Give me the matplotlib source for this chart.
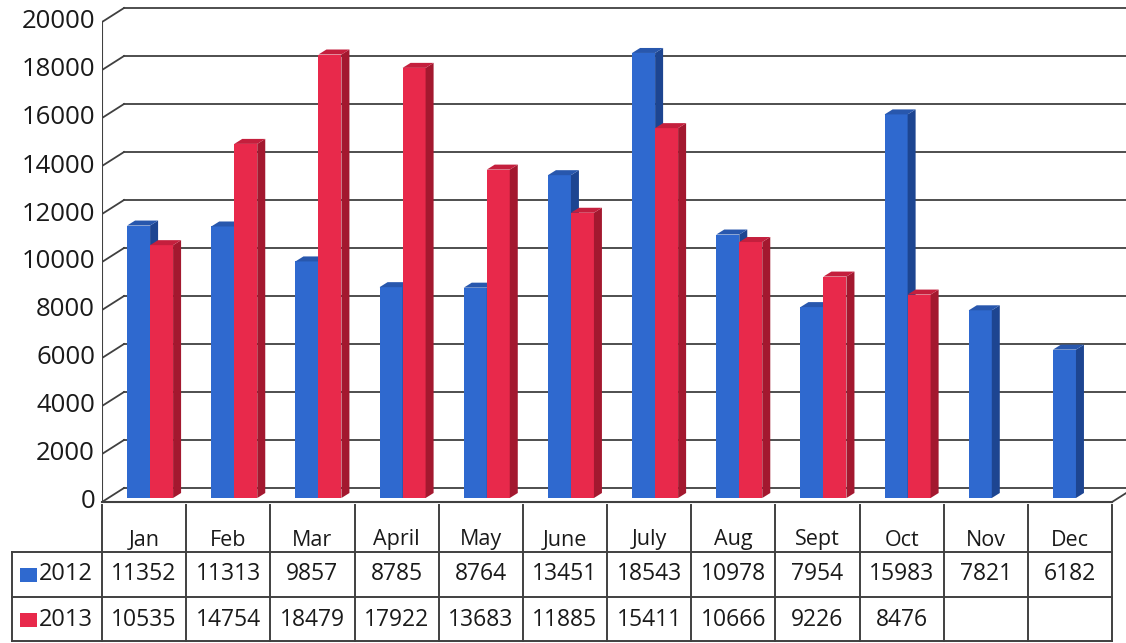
import matplotlib
matplotlib.use("Agg")
import matplotlib.pyplot as plt
from matplotlib.patches import Polygon, Rectangle

plt.rcParams['font.family'] = ['Open Sans', 'DejaVu Sans']

# data
months = ['Jan', 'Feb', 'Mar', 'April', 'May', 'June', 'July', 'Aug', 'Sept', 'Oct', 'Nov', 'Dec']
sales_2012 = [11352, 11313, 9857, 8785, 8764, 13451, 18543, 10978, 7954, 15983, 7821, 6182]
sales_2013 = [10535, 14754, 18479, 17922, 13683, 11885, 15411, 10666, 9226, 8476, None, None]
series_names = ['2012', '2013']
yticks = list(range(0, 20001, 2000))

# colours
front = ['#2f69cf', '#e8294b']
side = ['#1d4591', '#a3182f']
top = ['#2857ad', '#c41f3d']
line_col = '#404040'
text_col = '#1a1a1a'

W, H = 1126, 643
fig = plt.figure(figsize=(W / 100, H / 100), dpi=100)

# geometry (pixels)
left_px, floor_px = 102, 502
col_px = 84.17
val_px = 0.024          # pixels per unit
wall_dx, wall_dy = 22, 14
bar_w_px, bar_shift_px = 23, 6
bar_dx, bar_dy = 8, 5

ax = fig.add_axes([left_px / W, (H - floor_px) / H, (W - left_px) / W, floor_px / H])
ax.set_xlim(-0.5, -0.5 + (W - left_px) / col_px)
ax.set_ylim(0, floor_px / val_px)
ax.axis('off')

def cx(px):
    return px / col_px

def cy(px):
    return px / val_px

x_lo = -0.5
x_hi = -0.5 + len(months)
x_end = ax.get_xlim()[1]
wdx, wdy = cx(wall_dx), cy(wall_dy)

# walls and gridlines
ax.plot([x_lo, x_lo], [0, yticks[-1]], color=line_col, lw=1.5, zorder=1)
for v in yticks:
    ax.plot([x_lo, x_lo + wdx], [v, v + wdy], color=line_col, lw=1.3, zorder=1)
    ax.plot([x_lo + wdx, x_end], [v + wdy, v + wdy], color=line_col, lw=1.3, zorder=1)
ax.plot([x_lo, x_hi], [0, 0], color=line_col, lw=1.5, zorder=1, clip_on=False)
ax.plot([x_hi, x_hi + wdx], [0, wdy], color=line_col, lw=1.3, zorder=1, clip_on=False)

# y tick labels
for v in yticks:
    ax.text(x_lo - cx(7), v, str(v), ha='right', va='center', fontsize=18.5, color=text_col)

# pseudo 3d bars
bw = cx(bar_w_px)
base = cy(4)
ddx, ddy = cx(bar_dx), cy(bar_dy)
for s, vals in enumerate([sales_2012, sales_2013]):
    xs = [i + cx(bar_shift_px) - bw + s * bw for i in range(len(months)) if vals[i] is not None]
    hs = [v for v in vals if v is not None]
    z = 3 + s
    ax.bar(xs, hs, width=bw, bottom=base, align='edge', color=front[s], edgecolor='none', zorder=z)
    for x, h in zip(xs, hs):
        t = base + h
        ax.add_patch(Polygon([(x + bw, base), (x + bw + ddx, base + ddy), (x + bw + ddx, t + ddy), (x + bw, t)],
                             closed=True, facecolor=side[s], edgecolor='none', zorder=z))
        ax.add_patch(Polygon([(x, t), (x + ddx, t + ddy), (x + bw + ddx, t + ddy), (x + bw, t)],
                             closed=True, facecolor=top[s], edgecolor='none', zorder=z))

# data table below
tb = fig.add_axes([0, 0, 1, 1])
tb.set_xlim(0, W)
tb.set_ylim(H, 0)
tb.axis('off')

head_top, row1, row2, row3 = 505, 552, 597, 641
table_left = 12
right = left_px + col_px * len(months)
for i in range(len(months) + 1):
    x = left_px + col_px * i
    tb.plot([x, x], [head_top, row3], color=line_col, lw=1.4)
for y in [row1, row2, row3]:
    tb.plot([table_left, right], [y, y], color=line_col, lw=1.4)
tb.plot([table_left, table_left], [row1, row3], color=line_col, lw=1.4)

for i, m in enumerate(months):
    xc = left_px + col_px * (i + 0.5)
    tb.text(xc, 540, m, ha='center', va='center', fontsize=15.5, color=text_col)
    for r, vals in enumerate([sales_2012, sales_2013]):
        if vals[i] is not None:
            tb.text(xc, (row1 + row2) / 2 + r * 45, str(vals[i]), ha='center', va='center',
                    fontsize=16.5, color=text_col)

for r, name in enumerate(series_names):
    yc = (row1 + row2) / 2 + r * 45
    tb.add_patch(Rectangle((20, yc - 7), 17, 14, facecolor=front[r], edgecolor='none'))
    tb.text(39, yc, name, ha='left', va='center', fontsize=17, color=text_col)

fig.savefig('out.png', dpi=100, facecolor='white')
